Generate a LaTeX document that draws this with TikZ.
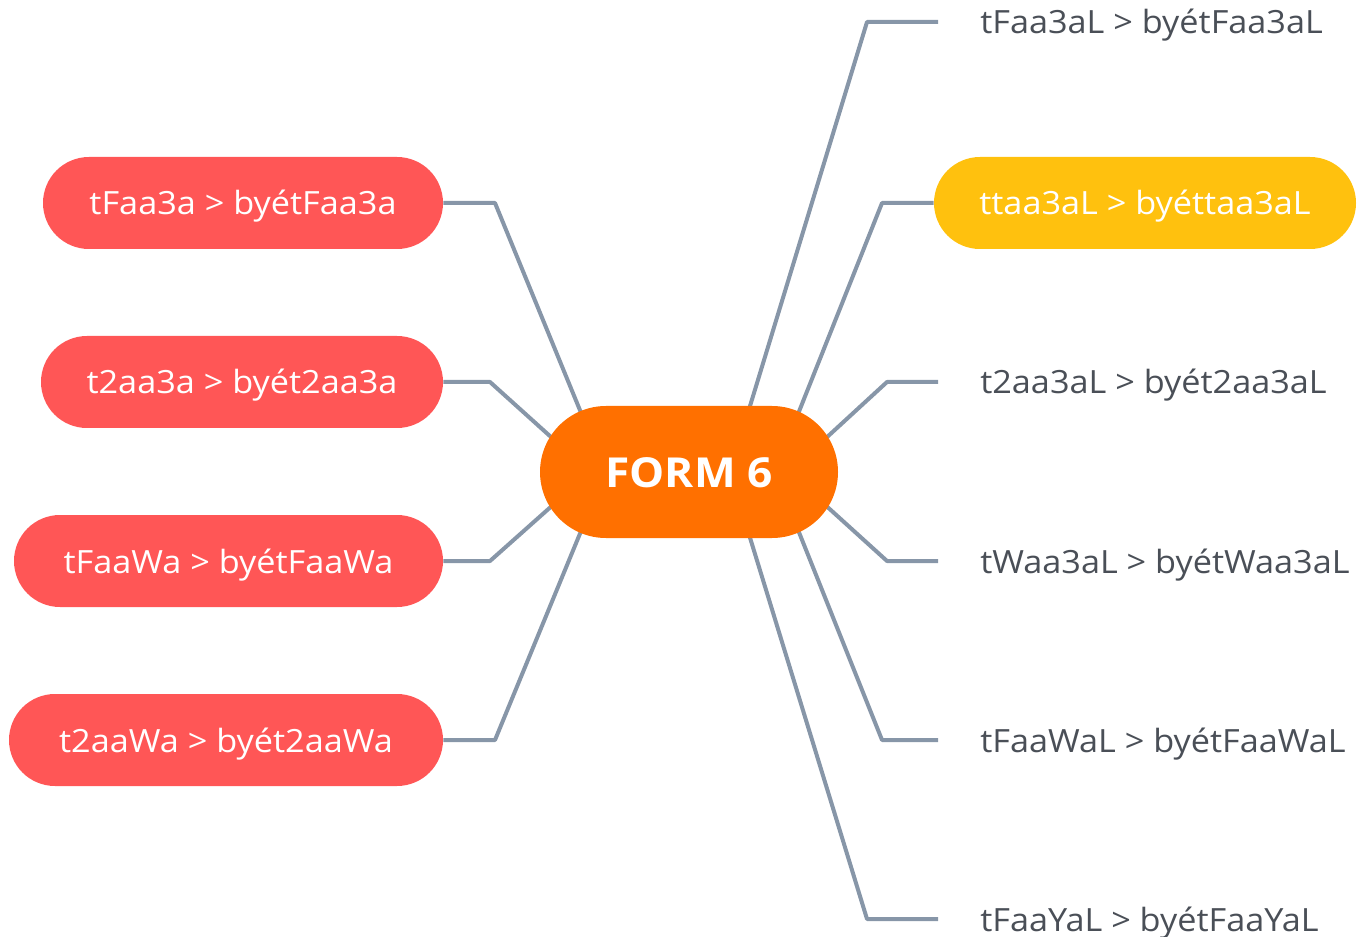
\documentclass[tikz,border=0pt]{standalone}
\usepackage{fontspec}
\setmainfont[FakeStretch=1.07]{Open Sans}
\definecolor{redn}{HTML}{FF5656}
\definecolor{orangen}{HTML}{FF7000}
\definecolor{yellown}{HTML}{FFC10E}
\definecolor{linec}{HTML}{8796A8}
\definecolor{textc}{HTML}{4A4F57}
\pgfdeclarelayer{bg}
\pgfsetlayers{bg,main}
\tikzset{
  pill/.style={fill=redn, text=white, rounded corners=34.5pt, minimum height=69pt,
    inner sep=0pt, font=\fontsize{24}{28}\selectfont, text height=20pt, text depth=2pt},
  leaf/.style={text=textc, anchor=west, inner sep=0pt, font=\fontsize{24}{28}\selectfont,
    text height=20pt, text depth=2pt},
  conn/.style={draw=linec, line width=3pt, line join=round}
}
\begin{document}
\begin{tikzpicture}[x=0.75pt,y=-0.75pt]
\useasboundingbox (0,0) rectangle (1370,937);
% center
\node[fill=orangen, text=white, rounded corners=49.5pt, minimum width=223.5pt, minimum height=99pt,
  inner sep=0pt, font=\fontsize{31}{36}\bfseries\selectfont, text height=24pt, text depth=1.5pt] (c) at (689,472) {FORM 6};
% left nodes
\node[pill, minimum width=300pt] (l1) at (243,203) {tFaa3a > byétFaa3a};
\node[pill, minimum width=301.5pt] (l2) at (242,382) {t2aa3a > byét2aa3a};
\node[pill, minimum width=321.75pt] (l3) at (228.5,561) {tFaaWa > byétFaaWa};
\node[pill, minimum width=325.5pt] (l4) at (226,740) {t2aaWa > byét2aaWa};
% right nodes
\node[leaf] (r1) at (980,22) {tFaa3aL > byétFaa3aL};
\node[pill, fill=yellown, minimum width=316.5pt] (r2) at (1145,203) {ttaa3aL > byéttaa3aL};
\node[leaf] (r3) at (980,382) {t2aa3aL > byét2aa3aL};
\node[leaf] (r4) at (980,561) {tWaa3aL > byétWaa3aL};
\node[leaf] (r5) at (980,740) {tFaaWaL > byétFaaWaL};
\node[leaf] (r6) at (980,919) {tFaaYaL > byétFaaYaL};
% free ends of right leaf connectors
\coordinate (e1) at (938,22);
\coordinate (e3) at (938,382);
\coordinate (e4) at (938,561);
\coordinate (e5) at (938,740);
\coordinate (e6) at (938,919);
\begin{pgfonlayer}{bg}
\draw[conn] (l1.east) -- (495,203) -- ([xshift=-72pt,yshift=22.5pt]c.center);
\draw[conn] (l2.east) -- (490,382) -- ([xshift=-85.5pt,yshift=10pt]c.center);
\draw[conn] (l3.east) -- (490,561) -- ([xshift=-85.5pt,yshift=-10pt]c.center);
\draw[conn] (l4.east) -- (495,740) -- ([xshift=-72pt,yshift=-22.5pt]c.center);
\draw[conn] (e1) -- (867,22) -- ([xshift=38pt,yshift=24pt]c.center);
\draw[conn] (r2.west) -- (882,203) -- ([xshift=74pt,yshift=24pt]c.center);
\draw[conn] (e3) -- (887,382) -- ([xshift=87pt,yshift=11pt]c.center);
\draw[conn] (e4) -- (887,561) -- ([xshift=87pt,yshift=-11pt]c.center);
\draw[conn] (e5) -- (882,740) -- ([xshift=74pt,yshift=-24pt]c.center);
\draw[conn] (e6) -- (867,919) -- ([xshift=38pt,yshift=-24pt]c.center);
\end{pgfonlayer}
\end{tikzpicture}
\end{document}
